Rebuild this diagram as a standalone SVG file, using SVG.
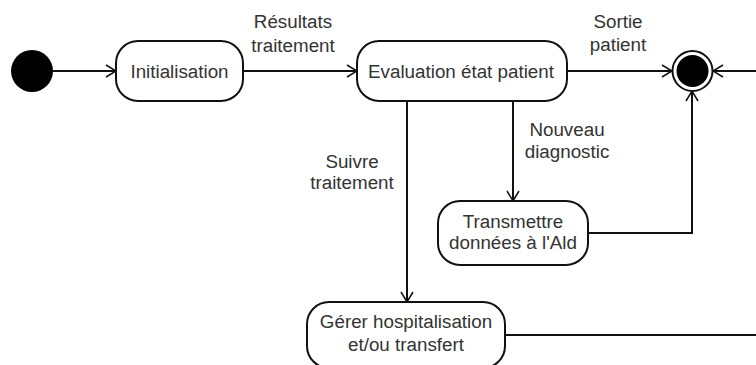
<svg xmlns="http://www.w3.org/2000/svg" width="756" height="365" viewBox="0 0 756 365">
<style>
.node rect{fill:#fff;stroke:#111;stroke-width:2}
text{font-family:"Liberation Sans",Arial,sans-serif;font-size:18.8px;fill:#333;text-anchor:middle}
.edge{fill:none;stroke:#111;stroke-width:2}
</style>
<defs>
<marker id="arr" viewBox="0 0 12 14" refX="11" refY="7" markerWidth="12" markerHeight="14" markerUnits="userSpaceOnUse" orient="auto">
<path d="M1,1 L11,7 L1,13" fill="none" stroke="#111" stroke-width="1.5"/>
</marker>
</defs>
<rect width="756" height="365" fill="#fff"/>
<g id="connectors">
<path class="edge" d="M53,71 H116" marker-end="url(#arr)"/>
<path class="edge" d="M243,71 H357" marker-end="url(#arr)"/>
<path class="edge" d="M567,71 H672" marker-end="url(#arr)"/>
<path class="edge" d="M756,71 H713" marker-end="url(#arr)"/>
<path class="edge" d="M513,101 V201" marker-end="url(#arr)"/>
<path class="edge" d="M407,101 V302" marker-end="url(#arr)"/>
<path class="edge" d="M588,233 H692 V91" marker-end="url(#arr)"/>
<path class="edge" d="M505,335 H756"/>
<text x="293" y="28">Résultats</text>
<text x="293" y="52">traitement</text>
<text x="618" y="28">Sortie</text>
<text x="618" y="51">patient</text>
<text x="567" y="136">Nouveau</text>
<text x="567" y="158">diagnostic</text>
<text x="352" y="168">Suivre</text>
<text x="352" y="189">traitement</text>
</g>
<g id="start"><circle cx="32" cy="71" r="21" fill="#000"/></g>
<g id="end">
<circle cx="692.5" cy="71" r="20" fill="#fff" stroke="#111" stroke-width="2"/>
<circle cx="692.5" cy="71" r="16" fill="#000"/>
</g>
<g id="init" class="node"><rect x="116" y="41" width="127" height="60" rx="22"/><text x="179.5" y="77.5">Initialisation</text></g>
<g id="eval" class="node"><rect x="357" y="41" width="210" height="60" rx="22"/><text x="461" y="77.5">Evaluation état patient</text></g>
<g id="transmettre" class="node"><rect x="438" y="201" width="150" height="64" rx="22"/><text x="513" y="228">Transmettre</text><text x="513" y="249">données à l'Ald</text></g>
<g id="gerer" class="node"><rect x="307" y="302" width="198" height="66" rx="22"/><text x="406" y="328">Gérer hospitalisation</text><text x="406" y="351">et/ou transfert</text></g>
</svg>
